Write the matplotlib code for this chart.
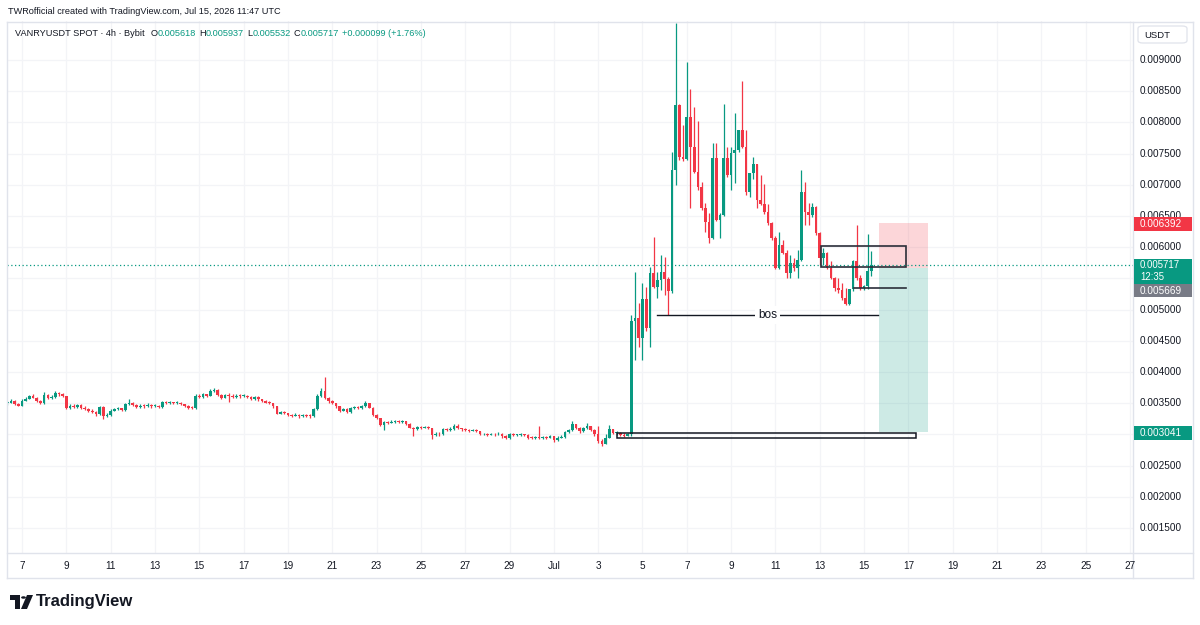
import numpy as np
import matplotlib.pyplot as plt
from matplotlib.patches import Rectangle, FancyBboxPatch, Polygon, Circle

plt.rcParams['font.family'] = ['Liberation Sans', 'DejaVu Sans']

# VANRYUSDT 4h candles, first bar Jun 6 08:00 UTC, last bar Jul 15 08:00 UTC
# prices in millionths of USDT, open of each bar = close of the bar before
first_open = 3500
close = [3510, 3540, 3480, 3460, 3540, 3570, 3610, 3590, 3530, 3500,
         3630, 3590, 3600, 3660, 3640, 3610, 3420, 3460, 3440, 3470,
         3430, 3410, 3380, 3360, 3330, 3440, 3290, 3310, 3380, 3400,
         3420, 3390, 3480, 3510, 3470, 3440, 3460, 3450, 3470, 3450,
         3460, 3440, 3520, 3500, 3510, 3500, 3510, 3480, 3460, 3430,
         3420, 3620, 3600, 3640, 3620, 3700, 3710, 3630, 3590, 3630,
         3620, 3600, 3620, 3610, 3620, 3600, 3560, 3600, 3560, 3540,
         3510, 3500, 3450, 3330, 3360, 3340, 3310, 3300, 3310, 3290,
         3310, 3300, 3290, 3400, 3620, 3700, 3580, 3530, 3500, 3450,
         3380, 3400, 3360, 3420, 3440, 3420, 3450, 3500, 3430, 3310,
         3260, 3150, 3200, 3190, 3200, 3210, 3200, 3210, 3170, 3110,
         3080, 3120, 3110, 3120, 3100, 2990, 3010, 3000, 3080, 3070,
         3090, 3140, 3100, 3080, 3070, 3060, 3070, 3050, 3000, 3010,
         2990, 3010, 3000, 3010, 2970, 2940, 3000, 2990, 2990, 3000,
         2990, 2950, 2940, 2950, 2940, 2960, 2950, 2970, 2910, 2950,
         2960, 3040, 3070, 3170, 3110, 3050, 3100, 3140, 3070, 3000,
         2890, 2850, 2950, 3080, 3020, 3030, 2990, 2980, 3010,
         4810, 4870, 4550, 5170, 4710, 5580, 5370, 5470, 5600, 5490,
         5300, 7240, 8280, 7450, 7420, 8090, 7610, 7210, 6970, 6630,
         6410, 6150, 7430, 6440, 6520, 7430, 7160, 7510, 7560, 7880,
         7610, 6890, 7190, 7340, 6760, 6700, 6570, 6380, 6150, 5670,
         6030, 5910, 5580, 5740, 5660, 5800, 6880, 6560, 6510, 6640,
         6220, 5820, 5910, 5670, 5510, 5350, 5320, 5190, 5090, 5330,
         5780, 5500, 5350, 5380, 5618, 5717]
high = [3540, 3560, 3550, 3500, 3560, 3600, 3630, 3640, 3600, 3550,
        3680, 3650, 3630, 3690, 3680, 3660, 3620, 3490, 3480, 3490,
        3480, 3450, 3420, 3400, 3370, 3460, 3450, 3340, 3400, 3430,
        3440, 3430, 3500, 3560, 3520, 3480, 3480, 3490, 3500, 3480,
        3490, 3470, 3540, 3530, 3530, 3520, 3530, 3520, 3490, 3470,
        3450, 3640, 3640, 3660, 3650, 3720, 3740, 3720, 3640, 3650,
        3670, 3640, 3640, 3640, 3640, 3630, 3610, 3620, 3610, 3570,
        3550, 3530, 3510, 3460, 3380, 3370, 3350, 3330, 3340, 3320,
        3330, 3330, 3320, 3420, 3650, 3750, 3920, 3600, 3550, 3510,
        3460, 3420, 3420, 3440, 3460, 3460, 3470, 3530, 3510, 3440,
        3320, 3270, 3220, 3220, 3230, 3230, 3230, 3230, 3220, 3180,
        3120, 3140, 3140, 3140, 3130, 3110, 3040, 3040, 3100, 3110,
        3120, 3160, 3160, 3110, 3100, 3090, 3090, 3080, 3060, 3030,
        3020, 3030, 3030, 3040, 3020, 2990, 3020, 3020, 3010, 3020,
        3010, 3000, 2970, 2980, 3140, 2980, 2980, 2990, 2980, 2970,
        2990, 3060, 3090, 3220, 3170, 3120, 3120, 3180, 3140, 3080,
        3130, 2920, 3000, 3150, 3080, 3060, 3040, 3020, 3030,
        4910, 5600, 5110, 5420, 5360, 5690, 6170, 5600, 5870, 5850,
        5520, 7530, 9600, 8300, 7960, 8970, 8540, 8240, 8020, 7050,
        6710, 6550, 7670, 7670, 6550, 8300, 7600, 7600, 8150, 7880,
        8660, 7880, 7190, 7450, 7340, 7160, 7020, 6700, 6410, 6180,
        6250, 6120, 5960, 5880, 5820, 5960, 7240, 7050, 6710, 6710,
        6660, 6250, 5990, 5930, 5780, 5530, 5510, 5420, 5350, 5330,
        5800, 6350, 5550, 5400, 6210, 5937]
low = [3470, 3500, 3470, 3450, 3450, 3530, 3560, 3580, 3520, 3480,
       3490, 3570, 3570, 3590, 3620, 3600, 3400, 3410, 3420, 3420,
       3410, 3390, 3360, 3340, 3300, 3310, 3240, 3280, 3300, 3370,
       3390, 3380, 3380, 3470, 3450, 3420, 3430, 3430, 3440, 3430,
       3440, 3420, 3430, 3480, 3490, 3480, 3490, 3470, 3440, 3410,
       3400, 3410, 3580, 3590, 3600, 3610, 3680, 3610, 3570, 3580,
       3520, 3580, 3590, 3590, 3600, 3580, 3550, 3550, 3540, 3520,
       3500, 3480, 3430, 3320, 3320, 3320, 3290, 3280, 3290, 3270,
       3280, 3280, 3270, 3280, 3390, 3600, 3560, 3510, 3480, 3430,
       3360, 3370, 3350, 3350, 3400, 3400, 3410, 3440, 3420, 3300,
       3240, 3140, 3070, 3170, 3180, 3190, 3180, 3190, 3150, 3100,
       2980, 3070, 3090, 3100, 3080, 2920, 2980, 2980, 2990, 3050,
       3060, 3070, 3080, 3060, 3050, 3040, 3050, 3040, 2990, 2990,
       2970, 2990, 2980, 2990, 2950, 2920, 2930, 2970, 2970, 2980,
       2970, 2930, 2920, 2930, 2920, 2930, 2930, 2940, 2880, 2900,
       2940, 2950, 3020, 3050, 3090, 3030, 3040, 3080, 3050, 2980,
       2870, 2810, 2840, 2950, 3010, 2990, 2970, 2960, 2970,
       2980, 4190, 4400, 4190, 4650, 4400, 5350, 5190, 5320, 5240,
       4910, 5260, 7000, 7400, 7380, 7400, 6630, 7190, 6920, 6600,
       6250, 6070, 6130, 6420, 6150, 6500, 7120, 6920, 7030, 7530,
       7590, 6840, 6810, 7100, 6630, 6680, 6540, 6350, 6120, 5650,
       5650, 5890, 5500, 5500, 5620, 5510, 5780, 6350, 6350, 6480,
       6200, 5710, 5710, 5650, 5490, 5300, 5270, 5160, 5070, 5070,
       5300, 5480, 5320, 5320, 5330, 5532]

x_days = [6, 8, 10, 12, 14, 16, 18, 20, 22, 24, 26, 28, 30, 32, 34, 36,
          38, 40, 42, 44, 46, 48, 50, 52, 54, 56]
x_labels = ['7', '9', '11', '13', '15', '17', '19', '21', '23', '25', '27',
            '29', 'Jul', '3', '5', '7', '9', '11', '13', '15', '17', '19',
            '21', '23', '25', '27']
price_ticks = [0.0015, 0.002, 0.0025, 0.003, 0.0035, 0.004, 0.0045, 0.005,
               0.0055, 0.006, 0.0065, 0.007, 0.0075, 0.008, 0.0085, 0.009]
# these axis labels sit fully under the coloured price tags
hidden_ticks = [0.003, 0.0055]

last_price = 0.005717
entry = 0.005669
stop = 0.006392
target = 0.003041
bos_level = 0.004913
ob_low, ob_high = 0.00568, 0.00602
sweep_level = 0.00535
base_low, base_high = 0.00294, 0.00302

GREEN = '#089981'
RED = '#f23645'
TXT = '#131722'
GRID = '#f3f4f7'
BORDER = '#e0e3eb'

c = np.array(close) / 1e6
h = np.array(high) / 1e6
l = np.array(low) / 1e6
o = np.concatenate([[first_open / 1e6], c[:-1]])
t = 5 + 8 / 24 + np.arange(len(c)) / 6   # days since Jun 1 00:00

W, H = 1200, 625
fig = plt.figure(figsize=(12, 6.25), dpi=100)
fig.patch.set_facecolor('white')


def fx(px):
    return px / W


def fy(py):
    return 1 - py / H


def day(px):
    # pixel column -> days since Jun 1
    return 6 + (px - 22) / 22.16


# plot area in pixels: x 7..1133, y 21..553
ax = fig.add_axes([fx(7), fy(553), fx(1133) - fx(7), fy(21) - fy(553)])
ax.set_xlim(day(7), day(1133))
ax.set_ylim(0.009 - (553 - 60) / 62400, 0.009 + (60 - 21) / 62400)
for s in ax.spines.values():
    s.set_visible(False)
ax.set_xticks([])
ax.set_yticks([])
for d in x_days:
    ax.axvline(d, color=GRID, lw=0.9, zorder=0)
for p in price_ticks:
    ax.axhline(p, color=GRID, lw=0.9, zorder=0)

# candles
up = c >= o
cols = np.where(up, GREEN, RED)
ax.vlines(t, l, h, colors=cols, lw=0.9, zorder=3)
body = np.maximum(np.abs(c - o), 0.000014)
ax.bar(t, body, bottom=np.minimum(o, c), width=0.12, color=cols,
       linewidth=0, zorder=4)

# current price dotted line
ax.axhline(last_price, color=GREEN, lw=0.9, ls=(0, (1, 2)), zorder=2)

# short position tool
x0, x1 = day(879), day(928)
ax.add_patch(Rectangle((x0, entry), x1 - x0, stop - entry, facecolor=RED,
                       alpha=0.2, lw=0, zorder=1))
ax.add_patch(Rectangle((x0, target), x1 - x0, entry - target, facecolor=GREEN,
                       alpha=0.2, lw=0, zorder=1))

# order block box and sweep line
b0, b1 = day(821), day(906)
ax.add_patch(Rectangle((b0, ob_low), b1 - b0, ob_high - ob_low, fill=False,
                       edgecolor='#2a2e39', lw=1.2, zorder=5))
ax.plot([day(854), b1], [sweep_level, sweep_level], color='#2a2e39', lw=1.2,
        zorder=5)

# base rectangle
r0, r1 = day(617), day(916)
ax.add_patch(Rectangle((r0, base_low), r1 - r0, base_high - base_low,
                       fill=False, edgecolor=TXT, lw=1.1, zorder=5))

# bos line
k0, k1 = day(657), day(878)
ax.plot([k0, k1], [bos_level, bos_level], color=TXT, lw=1.0, zorder=5)
ax.text((k0 + k1) / 2, bos_level, 'bos', ha='center', va='center', fontsize=8.5,
        color=TXT, zorder=6,
        bbox=dict(facecolor='white', edgecolor='none', pad=2.5))

# frame lines
for (xa, ya), (xb, yb) in [((7, 22), (7, 578)), ((1193, 22), (1193, 578)),
                           ((7, 22), (1193, 22)), ((7, 578), (1193, 578)),
                           ((1133, 22), (1133, 578)), ((7, 553), (1193, 553))]:
    fig.add_artist(plt.Line2D([fx(xa), fx(xb)], [fy(ya), fy(yb)],
                              color=BORDER, lw=1))

# time axis labels
for d, lab in zip(x_days, x_labels):
    px = 22 + (d - 6) * 22.16
    fig.text(fx(px), fy(566), lab, ha='center', va='center', fontsize=7.2,
             color=TXT)

# price axis labels
for p in price_ticks:
    if p in hidden_ticks:
        continue
    py = 60 + (0.009 - p) * 62400
    fig.text(fx(1140), fy(py), f'{p:.6f}', ha='left', va='center',
             fontsize=7.2, color=TXT)


def price_tag(py0, py1, color, lines, size=7.2):
    fig.add_artist(Rectangle((fx(1134), fy(py1)), fx(1192) - fx(1134),
                             fy(py0) - fy(py1), facecolor=color, lw=0,
                             transform=fig.transFigure, zorder=5))
    for ypx, txt in lines:
        fig.text(fx(1140), fy(ypx), txt, ha='left', va='center', fontsize=size,
                 color='white', zorder=6)


price_tag(217, 231, RED, [(224, f'{stop:.6f}')])
price_tag(259, 284, GREEN, [(265, f'{last_price:.6f}'), (277.5, '12:35')], 6.9)
price_tag(284, 297, '#787b86', [(290.5, f'{entry:.6f}')])
price_tag(426, 440, GREEN, [(433, f'{target:.6f}')])

# currency box
fig.add_artist(FancyBboxPatch((fx(1138), fy(43)), fx(1187) - fx(1138),
                              fy(26) - fy(43),
                              boxstyle='round,pad=0,rounding_size=0.004',
                              facecolor='white', edgecolor=BORDER, lw=0.9,
                              transform=fig.transFigure))
fig.text(fx(1144), fy(35), 'USDT', ha='left', va='center', fontsize=6.8,
         color=TXT)

# header
fig.text(fx(8), fy(11),
         'TWRofficial created with TradingView.com, Jul 15, 2026 11:47 UTC',
         ha='left', va='center', fontsize=6.6, color=TXT)
segs = [('O', TXT, 4), ('0.005618', GREEN, 0), ('H', TXT, 2.5),
        ('0.005937', GREEN, 0), ('L', TXT, 2.5), ('0.005532', GREEN, 0),
        ('C', TXT, 2.5), ('0.005717', GREEN, 0),
        ('+0.000099 (+1.76%)', GREEN, 2.5)]
chain = fig.text(fx(15), fy(33), 'VANRYUSDT SPOT · 4h · Bybit', ha='left',
                 va='center', fontsize=6.6, color=TXT)
for txt, col, gap in segs:
    chain = fig.add_artist(plt.Annotation(txt, xy=(1, 0), xycoords=chain,
                                          xytext=(gap, 0),
                                          textcoords='offset points',
                                          fontsize=6.6, color=col,
                                          va='bottom', ha='left'))

# logo
fig.add_artist(Polygon([[fx(10), fy(595)], [fx(20), fy(595)], [fx(20), fy(609)],
                        [fx(15), fy(609)], [fx(15), fy(600)], [fx(10), fy(600)]],
                       closed=True, facecolor=TXT, lw=0,
                       transform=fig.transFigure))
fig.add_artist(Circle((fx(23.5), fy(597.5)), 2.4 / W, facecolor=TXT, lw=0,
                      transform=fig.transFigure))
fig.add_artist(Polygon([[fx(27), fy(595)], [fx(33), fy(595)], [fx(27), fy(609)],
                        [fx(21), fy(609)]], closed=True, facecolor=TXT, lw=0,
                       transform=fig.transFigure))
fig.text(fx(36), fy(601.5), 'TradingView', ha='left', va='center', fontsize=12,
         fontweight='bold', color=TXT)

fig.savefig('out.png', dpi=100, facecolor='white')
